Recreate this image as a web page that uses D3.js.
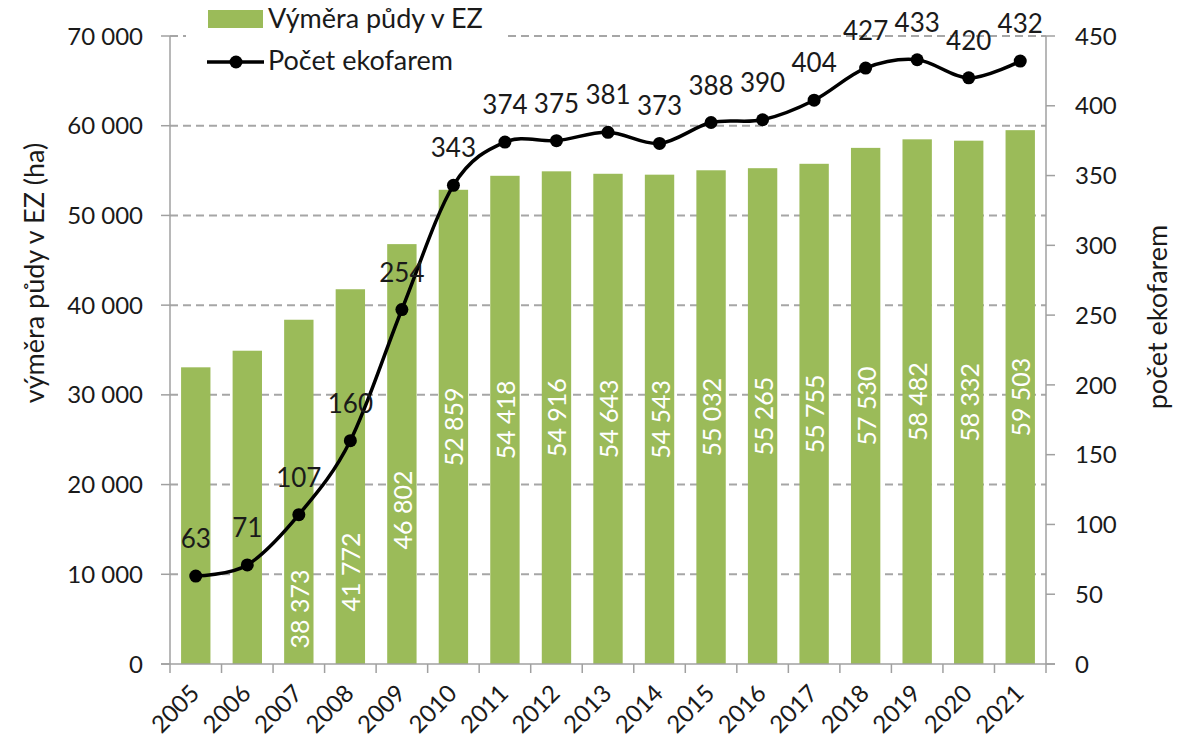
<!DOCTYPE html>
<html>
<head>
<meta charset="utf-8">
<script src="https://cdn.jsdelivr.net/npm/d3@7"></script>
<style>
  body { margin: 0; background: #fff; }
  text { font-family: Lato, "Open Sans", sans-serif; fill: #1a1a1a; }
</style>
</head>
<body>
<div id="chart"></div>
<script>
// data
var years = ["2005","2006","2007","2008","2009","2010","2011","2012","2013","2014","2015","2016","2017","2018","2019","2020","2021"];
var area = [33070, 34920, 38373, 41772, 46802, 52859, 54418, 54916, 54643, 54543, 55032, 55265, 55755, 57530, 58482, 58332, 59503];
var farms = [63, 71, 107, 160, 254, 343, 374, 375, 381, 373, 388, 390, 404, 427, 433, 420, 432];
// bars whose value label is shown (2005, 2006 have none)
var areaLabelShown = [false, false, true, true, true, true, true, true, true, true, true, true, true, true, true, true, true];
// labels that were pushed down below the line in the original (value where label is centred)
var areaLabelAt = {"2007": 6130, "2008": 10260, "2009": 17170};
var leftTicks = [0, 10000, 20000, 30000, 40000, 50000, 60000, 70000];
var rightTicks = [0, 50, 100, 150, 200, 250, 300, 350, 400, 450];

var width = 1183, height = 746;
var margin = {left: 170, right: 137, top: 36, bottom: 82};

var svg = d3.select("#chart").append("svg")
    .attr("width", width)
    .attr("height", height);

var x = d3.scaleBand()
    .domain(years)
    .range([margin.left, width - margin.right])
    .paddingInner(0.43)
    .paddingOuter(0.215);

var yL = d3.scaleLinear().domain([0, 70000]).range([height - margin.bottom, margin.top]);
var yR = d3.scaleLinear().domain([0, 450]).range([height - margin.bottom, margin.top]);

var fmt = function(v) { return d3.format(",")(v).replace(/,/g, " "); };
var x0 = margin.left, x1 = width - margin.right, yb = height - margin.bottom;
var cx = function(i) { return x(years[i]) + x.bandwidth() / 2; };

// gridlines
svg.append("g").selectAll("line")
    .data(leftTicks.filter(function(d) { return d > 0; }))
    .enter().append("line")
    .attr("x1", x0).attr("x2", x1)
    .attr("y1", function(d) { return yL(d); })
    .attr("y2", function(d) { return yL(d); })
    .attr("stroke", "#a6a6a6")
    .attr("stroke-width", 2)
    .attr("stroke-dasharray", "8,5");

// bars
svg.append("g").selectAll("rect")
    .data(area)
    .enter().append("rect")
    .attr("x", function(d, i) { return x(years[i]); })
    .attr("width", x.bandwidth())
    .attr("y", function(d) { return yL(d); })
    .attr("height", function(d) { return yb - yL(d); })
    .attr("fill", "#9bbb59");

// bar value labels
svg.append("g").selectAll("text")
    .data(area.map(function(d, i) { return {v: d, y: years[i]}; }).filter(function(d, i) { return areaLabelShown[i]; }))
    .enter().append("text")
    .attr("transform", function(d) {
      var cy = areaLabelAt[d.y] !== undefined ? yL(areaLabelAt[d.y]) : (yL(d.v) + yb) / 2;
      return "translate(" + (x(d.y) + x.bandwidth() / 2 + 10) + "," + cy + ") rotate(-90)";
    })
    .attr("text-anchor", "middle")
    .style("fill", "#fff")
    .style("font-size", "25px")
    .text(function(d) { return fmt(d.v); });

// axes lines
var axisCol = "#a0a0a0";
svg.append("line").attr("x1", x0).attr("x2", x0).attr("y1", margin.top).attr("y2", yb).attr("stroke", axisCol).attr("stroke-width", 1.5);
svg.append("line").attr("x1", x1).attr("x2", x1).attr("y1", margin.top).attr("y2", yb).attr("stroke", axisCol).attr("stroke-width", 1.5);
svg.append("line").attr("x1", x0 - 9).attr("x2", x1 + 9).attr("y1", yb).attr("y2", yb).attr("stroke", axisCol).attr("stroke-width", 1.5);

// left axis
var gl = svg.append("g");
gl.selectAll("line").data(leftTicks).enter().append("line")
    .attr("x1", x0 - 9).attr("x2", x0)
    .attr("y1", function(d) { return yL(d); }).attr("y2", function(d) { return yL(d); })
    .attr("stroke", axisCol).attr("stroke-width", 1.5);
gl.selectAll("text").data(leftTicks).enter().append("text")
    .attr("x", x0 - 27)
    .attr("y", function(d) { return yL(d); })
    .attr("dy", "0.36em")
    .attr("text-anchor", "end")
    .style("font-size", "24px")
    .text(fmt);

// right axis
var gr = svg.append("g");
gr.selectAll("line").data(rightTicks).enter().append("line")
    .attr("x1", x1).attr("x2", x1 + 9)
    .attr("y1", function(d) { return yR(d); }).attr("y2", function(d) { return yR(d); })
    .attr("stroke", axisCol).attr("stroke-width", 1.5);
gr.selectAll("text").data(rightTicks).enter().append("text")
    .attr("x", x1 + 29)
    .attr("y", function(d) { return yR(d); })
    .attr("dy", "0.36em")
    .style("font-size", "24px")
    .text(function(d) { return d; });

// bottom axis ticks + year labels
var bounds = years.map(function(d) { return x(d) - x.step() * x.paddingInner() / 2; }).concat([x1]);
svg.append("g").selectAll("line").data(bounds).enter().append("line")
    .attr("x1", function(d) { return d; }).attr("x2", function(d) { return d; })
    .attr("y1", yb).attr("y2", yb + 9)
    .attr("stroke", axisCol).attr("stroke-width", 1.5);
svg.append("g").selectAll("text").data(years).enter().append("text")
    .attr("transform", function(d, i) { return "translate(" + (cx(i) + 5) + "," + (yb + 31) + ") rotate(-45)"; })
    .attr("text-anchor", "end")
    .style("font-size", "24px")
    .text(function(d) { return d; });

// axis titles
svg.append("text")
    .attr("transform", "translate(35,273) rotate(-90)")
    .attr("text-anchor", "middle")
    .attr("dy", "0.35em")
    .style("font-size", "27px")
    .text("výměra půdy v EZ (ha)");
svg.append("text")
    .attr("transform", "translate(1158,317) rotate(-90)")
    .attr("text-anchor", "middle")
    .attr("dy", "0.35em")
    .style("font-size", "27px")
    .text("počet ekofarem");

// line of farm counts
var line = d3.line()
    .x(function(d, i) { return cx(i); })
    .y(function(d) { return yR(d); })
    .curve(d3.curveCatmullRom.alpha(0));

svg.append("path")
    .datum(farms)
    .attr("d", line)
    .attr("fill", "none")
    .attr("stroke", "#000")
    .attr("stroke-width", 3.5);

svg.append("g").selectAll("circle")
    .data(farms)
    .enter().append("circle")
    .attr("cx", function(d, i) { return cx(i); })
    .attr("cy", function(d) { return yR(d); })
    .attr("r", 6.5)
    .attr("fill", "#000");

svg.append("g").selectAll("text")
    .data(farms)
    .enter().append("text")
    .attr("x", function(d, i) { return cx(i); })
    .attr("y", function(d) { return yR(d) - 28; })
    .attr("text-anchor", "middle")
    .style("font-size", "26px")
    .text(function(d) { return d; });

// legend
var lg = svg.append("g");
lg.append("rect").attr("x", 186).attr("y", 0).attr("width", 320).attr("height", 80).attr("fill", "#fff");
lg.append("rect").attr("x", 208).attr("y", 10).attr("width", 55).attr("height", 18).attr("fill", "#9bbb59");
lg.append("text").attr("x", 268).attr("y", 19).attr("dy", "0.35em").style("font-size", "27px").text("Výměra půdy v EZ");
lg.append("line").attr("x1", 207).attr("x2", 264).attr("y1", 62).attr("y2", 62).attr("stroke", "#000").attr("stroke-width", 3.5);
lg.append("circle").attr("cx", 236).attr("cy", 62).attr("r", 6.5).attr("fill", "#000");
lg.append("text").attr("x", 268).attr("y", 61).attr("dy", "0.35em").style("font-size", "27px").text("Počet ekofarem");
</script>
</body>
</html>
